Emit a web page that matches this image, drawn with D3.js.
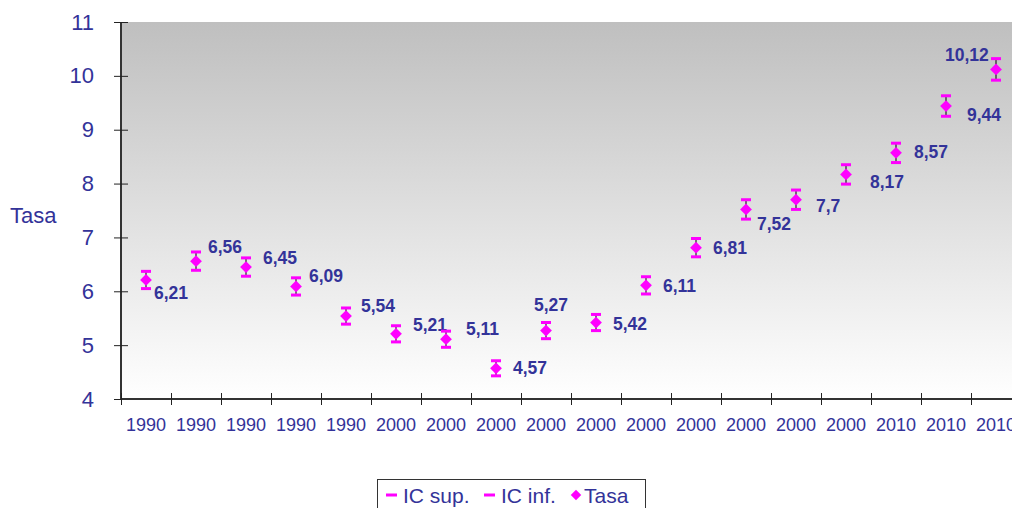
<!DOCTYPE html>
<html>
<head>
<meta charset="utf-8">
<script src="https://cdn.jsdelivr.net/npm/d3@7"></script>
<style>
  body { margin: 0; background: #fff; }
  svg { display: block; font-family: "Liberation Sans", Arial, sans-serif; }
</style>
</head>
<body>
<div id="chart"></div>
<script>
// data
var years = ["1990","1990","1990","1990","1990","2000","2000","2000","2000","2000",
             "2000","2000","2000","2000","2000","2010","2010","2010"];
var tasa  = [6.21, 6.56, 6.45, 6.09, 5.54, 5.21, 5.11, 4.57, 5.27, 5.42,
             6.11, 6.81, 7.52, 7.7, 8.17, 8.57, 9.44, 10.12];
var icSup = [6.37, 6.73, 6.62, 6.25, 5.69, 5.36, 5.26, 4.71, 5.42, 5.57,
             6.27, 6.98, 7.70, 7.88, 8.35, 8.75, 9.63, 10.32];
var icInf = [6.05, 6.39, 6.28, 5.93, 5.39, 5.06, 4.96, 4.43, 5.12, 5.27,
             5.95, 6.64, 7.34, 7.52, 7.99, 8.39, 9.25, 9.92];
var yTicks = [4, 5, 6, 7, 8, 9, 10, 11];

// manual label placement (px from the point)
var labelDx = [8, 12, 17, 13, 15, 17, 20, 17, -12, 17, 17, 17, 11, 20, 24, 18, 21, -51];
var labelDy = [19, -8, -3, -4, -4, -3, -4, 6, -20, 7, 7, 6, 21, 12, 14, 5, 15, -8];

var svgWidth = 1012, svgHeight = 508;
var margin = {top: 22, left: 121};
var plotBottom = 399;
var plotRight = 121 + 50 * years.length;
var textColor = '#333399';

var svg = d3.select('#chart').append('svg')
    .attr('width', svgWidth)
    .attr('height', svgHeight);

var defs = svg.append('defs');
var grad = defs.append('linearGradient')
    .attr('id', 'bg').attr('x1', 0).attr('y1', 0).attr('x2', 0).attr('y2', 1);
grad.append('stop').attr('offset', '0%').attr('stop-color', '#bfbfbf');
grad.append('stop').attr('offset', '100%').attr('stop-color', '#ffffff');

// scales
var xScale = d3.scaleLinear().domain([0, years.length]).range([margin.left, plotRight]);
var yScale = d3.scaleLinear().domain([4, 11]).range([plotBottom, margin.top]);

// plot background
svg.append('rect')
    .attr('x', margin.left).attr('y', margin.top)
    .attr('width', plotRight - margin.left)
    .attr('height', plotBottom - margin.top)
    .attr('fill', 'url(#bg)');

// y axis
var yAxis = svg.append('g')
    .attr('transform', `translate(${margin.left},0)`)
    .call(d3.axisLeft(yScale).tickValues(yTicks).tickFormat(d3.format('d')).tickSize(7).tickPadding(20));
yAxis.select('.domain').attr('stroke', '#333').attr('stroke-width', 2).attr('d', `M0,${margin.top}V${plotBottom}`);
yAxis.selectAll('.tick line').attr('x1', -7).attr('x2', 7).attr('stroke', '#222');
yAxis.selectAll('.tick text')
    .attr('fill', textColor)
    .style('font-size', '22px')
    .style('font-family', '"Liberation Sans", Arial, sans-serif');

// x axis (ticks at category boundaries)
var xAxis = svg.append('g')
    .attr('transform', `translate(0,${plotBottom})`)
    .call(d3.axisBottom(xScale).tickValues(d3.range(years.length + 1)).tickFormat('').tickSize(6));
xAxis.select('.domain').attr('stroke', '#333').attr('stroke-width', 2).attr('d', `M${margin.left},0H${plotRight}`);
xAxis.selectAll('.tick line').attr('y1', -6).attr('y2', 6).attr('stroke', '#222');

svg.append('g').selectAll('text')
    .data(years)
    .enter().append('text')
    .attr('x', (d, i) => xScale(i + 0.5))
    .attr('y', 431)
    .attr('text-anchor', 'middle')
    .attr('fill', textColor)
    .style('font-size', '18px')
    .text(d => d);

// y axis title
svg.append('text')
    .attr('x', 10).attr('y', 223)
    .attr('fill', textColor)
    .style('font-size', '22px')
    .text('Tasa');

// error bars + points
var pts = svg.append('g').selectAll('g')
    .data(tasa.map((v, i) => ({i: i, v: v, hi: icSup[i], lo: icInf[i], year: years[i]})))
    .enter().append('g');

pts.append('line')
    .attr('x1', d => xScale(d.i + 0.5)).attr('x2', d => xScale(d.i + 0.5))
    .attr('y1', d => yScale(d.hi)).attr('y2', d => yScale(d.lo))
    .attr('stroke', '#000').attr('stroke-width', 1);

['hi', 'lo'].forEach(function(k) {
  pts.append('line')
    .attr('x1', d => xScale(d.i + 0.5) - 5).attr('x2', d => xScale(d.i + 0.5) + 5)
    .attr('y1', d => yScale(d[k])).attr('y2', d => yScale(d[k]))
    .attr('stroke', '#ff00ff').attr('stroke-width', 3);
});

var diamond = d3.symbol().type(d3.symbolDiamond2).size(88);
pts.append('path')
    .attr('d', diamond)
    .attr('transform', d => `translate(${xScale(d.i + 0.5)},${yScale(d.v)})`)
    .attr('fill', '#ff00ff');

// data labels
pts.append('text')
    .attr('x', d => xScale(d.i + 0.5) + labelDx[d.i])
    .attr('y', d => yScale(d.v) + labelDy[d.i])
    .attr('fill', textColor)
    .style('font-size', '17.5px')
    .style('font-weight', 'bold')
    .text(d => String(d.v).replace('.', ','));

// legend
var legend = svg.append('g');
legend.append('rect')
    .attr('x', 377.5).attr('y', 479.5)
    .attr('width', 268).attr('height', 40)
    .attr('fill', '#fff').attr('stroke', '#333').attr('stroke-width', 1);

var legendItems = [
  {label: 'IC sup.', mark: 'dash', x: 386},
  {label: 'IC inf.', mark: 'dash', x: 484},
  {label: 'Tasa', mark: 'diamond', x: 572}
];
legendItems.forEach(function(it) {
  if (it.mark === 'dash') {
    legend.append('line')
      .attr('x1', it.x).attr('x2', it.x + 11)
      .attr('y1', 495).attr('y2', 495)
      .attr('stroke', '#ff00ff').attr('stroke-width', 3);
  } else {
    legend.append('path')
      .attr('d', d3.symbol().type(d3.symbolDiamond2).size(70))
      .attr('transform', `translate(${it.x + 4},495)`)
      .attr('fill', '#ff00ff');
  }
  legend.append('text')
    .attr('x', it.mark === 'dash' ? it.x + 17 : it.x + 12)
    .attr('y', 503)
    .attr('fill', textColor)
    .style('font-size', '21px')
    .text(it.label);
});
</script>
</body>
</html>
